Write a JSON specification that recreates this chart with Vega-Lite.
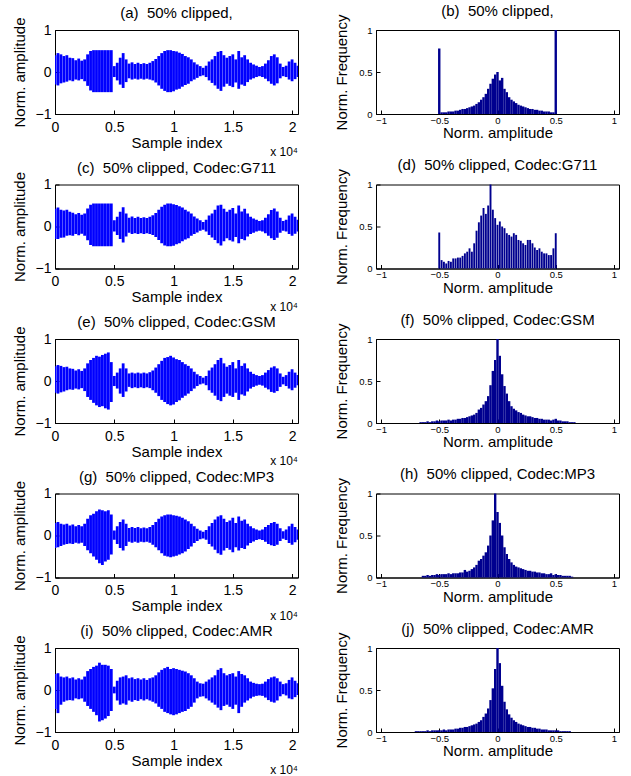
{
"$schema": "https://vega.github.io/schema/vega-lite/v6.json",
"background": "white",
"padding": {"left": 11, "top": 3, "right": 5, "bottom": 2},
"config": {
  "font": "Liberation Sans",
  "view": {"stroke": "black", "strokeWidth": 1},
  "title": {"fontSize": 15, "fontWeight": "normal", "font": "Liberation Sans", "color": "black", "offset": -4.5, "anchor": "middle", "frame": "group", "baseline": "alphabetic"},
  "axis": {"grid": false, "domainColor": "black", "tickColor": "black", "tickSize": -4, "labelColor": "black", "titleColor": "black", "titleFontWeight": "normal", "titleFontSize": 15, "labelFont": "Liberation Sans", "titleFont": "Liberation Sans", "labelFlush": false, "labelOverlap": false}
},
"datasets": {
"wave": [
{"p":"a","t":0,"hi":0.40,"lo":-0.30},{"p":"a","t":250,"hi":0.45,"lo":-0.32},{"p":"a","t":500,"hi":0.42,"lo":-0.27},{"p":"a","t":750,"hi":0.38,"lo":-0.25},{"p":"a","t":1000,"hi":0.40,"lo":-0.23},{"p":"a","t":1250,"hi":0.34,"lo":-0.20},{"p":"a","t":1500,"hi":0.33,"lo":-0.22},{"p":"a","t":1750,"hi":0.28,"lo":-0.18},{"p":"a","t":2000,"hi":0.32,"lo":-0.20},{"p":"a","t":2250,"hi":0.27,"lo":-0.17},{"p":"a","t":2500,"hi":0.30,"lo":-0.22},{"p":"a","t":2750,"hi":0.42,"lo":-0.33},{"p":"a","t":3000,"hi":0.50,"lo":-0.44},{"p":"a","t":3250,"hi":0.52,"lo":-0.48},{"p":"a","t":3500,"hi":0.52,"lo":-0.48},{"p":"a","t":3750,"hi":0.52,"lo":-0.48},{"p":"a","t":4000,"hi":0.52,"lo":-0.48},{"p":"a","t":4250,"hi":0.52,"lo":-0.48},{"p":"a","t":4500,"hi":0.52,"lo":-0.48},{"p":"a","t":4750,"hi":0.52,"lo":-0.48},{"p":"a","t":5000,"hi":0.14,"lo":-0.12},{"p":"a","t":5250,"hi":0.22,"lo":-0.20},{"p":"a","t":5500,"hi":0.34,"lo":-0.30},{"p":"a","t":5750,"hi":0.45,"lo":-0.38},{"p":"a","t":6000,"hi":0.30,"lo":-0.24},{"p":"a","t":6250,"hi":0.20,"lo":-0.15},{"p":"a","t":6500,"hi":0.23,"lo":-0.18},{"p":"a","t":6750,"hi":0.19,"lo":-0.16},{"p":"a","t":7000,"hi":0.22,"lo":-0.18},{"p":"a","t":7250,"hi":0.19,"lo":-0.16},{"p":"a","t":7500,"hi":0.21,"lo":-0.18},{"p":"a","t":7750,"hi":0.19,"lo":-0.16},{"p":"a","t":8000,"hi":0.22,"lo":-0.18},{"p":"a","t":8250,"hi":0.26,"lo":-0.20},{"p":"a","t":8500,"hi":0.31,"lo":-0.25},{"p":"a","t":8750,"hi":0.38,"lo":-0.32},{"p":"a","t":9000,"hi":0.45,"lo":-0.40},{"p":"a","t":9250,"hi":0.50,"lo":-0.45},{"p":"a","t":9500,"hi":0.52,"lo":-0.48},{"p":"a","t":9750,"hi":0.52,"lo":-0.48},{"p":"a","t":10000,"hi":0.50,"lo":-0.46},{"p":"a","t":10250,"hi":0.49,"lo":-0.42},{"p":"a","t":10500,"hi":0.46,"lo":-0.40},{"p":"a","t":10750,"hi":0.43,"lo":-0.35},{"p":"a","t":11000,"hi":0.38,"lo":-0.31},{"p":"a","t":11250,"hi":0.35,"lo":-0.28},{"p":"a","t":11500,"hi":0.30,"lo":-0.22},{"p":"a","t":11750,"hi":0.23,"lo":-0.18},{"p":"a","t":12000,"hi":0.18,"lo":-0.14},{"p":"a","t":12250,"hi":0.14,"lo":-0.10},{"p":"a","t":12500,"hi":0.10,"lo":-0.08},{"p":"a","t":12750,"hi":0.15,"lo":-0.12},{"p":"a","t":13000,"hi":0.25,"lo":-0.20},{"p":"a","t":13250,"hi":0.30,"lo":-0.26},{"p":"a","t":13500,"hi":0.38,"lo":-0.32},{"p":"a","t":13750,"hi":0.48,"lo":-0.40},{"p":"a","t":14000,"hi":0.50,"lo":-0.45},{"p":"a","t":14250,"hi":0.40,"lo":-0.35},{"p":"a","t":14500,"hi":0.34,"lo":-0.28},{"p":"a","t":14750,"hi":0.38,"lo":-0.33},{"p":"a","t":15000,"hi":0.42,"lo":-0.36},{"p":"a","t":15250,"hi":0.30,"lo":-0.25},{"p":"a","t":15500,"hi":0.50,"lo":-0.40},{"p":"a","t":15750,"hi":0.35,"lo":-0.30},{"p":"a","t":16000,"hi":0.40,"lo":-0.33},{"p":"a","t":16250,"hi":0.30,"lo":-0.24},{"p":"a","t":16500,"hi":0.22,"lo":-0.18},{"p":"a","t":16750,"hi":0.18,"lo":-0.15},{"p":"a","t":17000,"hi":0.15,"lo":-0.12},{"p":"a","t":17250,"hi":0.12,"lo":-0.10},{"p":"a","t":17500,"hi":0.14,"lo":-0.12},{"p":"a","t":17750,"hi":0.20,"lo":-0.16},{"p":"a","t":18000,"hi":0.28,"lo":-0.22},{"p":"a","t":18250,"hi":0.38,"lo":-0.28},{"p":"a","t":18500,"hi":0.42,"lo":-0.32},{"p":"a","t":18750,"hi":0.35,"lo":-0.27},{"p":"a","t":19000,"hi":0.20,"lo":-0.15},{"p":"a","t":19250,"hi":0.12,"lo":-0.10},{"p":"a","t":19500,"hi":0.15,"lo":-0.12},{"p":"a","t":19750,"hi":0.25,"lo":-0.18},{"p":"a","t":20000,"hi":0.30,"lo":-0.22},{"p":"a","t":20250,"hi":0.22,"lo":-0.17},{"p":"a","t":20500,"hi":0.15,"lo":-0.12},
{"p":"c","t":0,"hi":0.42,"lo":-0.30},{"p":"c","t":250,"hi":0.45,"lo":-0.30},{"p":"c","t":500,"hi":0.40,"lo":-0.27},{"p":"c","t":750,"hi":0.38,"lo":-0.26},{"p":"c","t":1000,"hi":0.40,"lo":-0.22},{"p":"c","t":1250,"hi":0.35,"lo":-0.21},{"p":"c","t":1500,"hi":0.33,"lo":-0.22},{"p":"c","t":1750,"hi":0.29,"lo":-0.18},{"p":"c","t":2000,"hi":0.32,"lo":-0.21},{"p":"c","t":2250,"hi":0.28,"lo":-0.17},{"p":"c","t":2500,"hi":0.31,"lo":-0.22},{"p":"c","t":2750,"hi":0.43,"lo":-0.33},{"p":"c","t":3000,"hi":0.52,"lo":-0.44},{"p":"c","t":3250,"hi":0.55,"lo":-0.47},{"p":"c","t":3500,"hi":0.55,"lo":-0.47},{"p":"c","t":3750,"hi":0.55,"lo":-0.47},{"p":"c","t":4000,"hi":0.55,"lo":-0.47},{"p":"c","t":4250,"hi":0.55,"lo":-0.47},{"p":"c","t":4500,"hi":0.55,"lo":-0.47},{"p":"c","t":4750,"hi":0.55,"lo":-0.47},{"p":"c","t":5000,"hi":0.15,"lo":-0.12},{"p":"c","t":5250,"hi":0.23,"lo":-0.20},{"p":"c","t":5500,"hi":0.35,"lo":-0.30},{"p":"c","t":5750,"hi":0.46,"lo":-0.38},{"p":"c","t":6000,"hi":0.31,"lo":-0.24},{"p":"c","t":6250,"hi":0.21,"lo":-0.15},{"p":"c","t":6500,"hi":0.24,"lo":-0.18},{"p":"c","t":6750,"hi":0.20,"lo":-0.16},{"p":"c","t":7000,"hi":0.23,"lo":-0.18},{"p":"c","t":7250,"hi":0.20,"lo":-0.16},{"p":"c","t":7500,"hi":0.22,"lo":-0.18},{"p":"c","t":7750,"hi":0.20,"lo":-0.16},{"p":"c","t":8000,"hi":0.23,"lo":-0.18},{"p":"c","t":8250,"hi":0.27,"lo":-0.20},{"p":"c","t":8500,"hi":0.32,"lo":-0.25},{"p":"c","t":8750,"hi":0.40,"lo":-0.32},{"p":"c","t":9000,"hi":0.47,"lo":-0.40},{"p":"c","t":9250,"hi":0.52,"lo":-0.45},{"p":"c","t":9500,"hi":0.55,"lo":-0.47},{"p":"c","t":9750,"hi":0.55,"lo":-0.47},{"p":"c","t":10000,"hi":0.53,"lo":-0.46},{"p":"c","t":10250,"hi":0.51,"lo":-0.42},{"p":"c","t":10500,"hi":0.48,"lo":-0.40},{"p":"c","t":10750,"hi":0.45,"lo":-0.35},{"p":"c","t":11000,"hi":0.40,"lo":-0.31},{"p":"c","t":11250,"hi":0.36,"lo":-0.28},{"p":"c","t":11500,"hi":0.31,"lo":-0.22},{"p":"c","t":11750,"hi":0.24,"lo":-0.18},{"p":"c","t":12000,"hi":0.19,"lo":-0.14},{"p":"c","t":12250,"hi":0.15,"lo":-0.10},{"p":"c","t":12500,"hi":0.11,"lo":-0.08},{"p":"c","t":12750,"hi":0.16,"lo":-0.12},{"p":"c","t":13000,"hi":0.26,"lo":-0.20},{"p":"c","t":13250,"hi":0.31,"lo":-0.26},{"p":"c","t":13500,"hi":0.40,"lo":-0.32},{"p":"c","t":13750,"hi":0.50,"lo":-0.40},{"p":"c","t":14000,"hi":0.52,"lo":-0.45},{"p":"c","t":14250,"hi":0.42,"lo":-0.35},{"p":"c","t":14500,"hi":0.35,"lo":-0.28},{"p":"c","t":14750,"hi":0.40,"lo":-0.33},{"p":"c","t":15000,"hi":0.44,"lo":-0.36},{"p":"c","t":15250,"hi":0.31,"lo":-0.25},{"p":"c","t":15500,"hi":0.50,"lo":-0.40},{"p":"c","t":15750,"hi":0.36,"lo":-0.30},{"p":"c","t":16000,"hi":0.42,"lo":-0.33},{"p":"c","t":16250,"hi":0.31,"lo":-0.24},{"p":"c","t":16500,"hi":0.23,"lo":-0.18},{"p":"c","t":16750,"hi":0.19,"lo":-0.15},{"p":"c","t":17000,"hi":0.16,"lo":-0.12},{"p":"c","t":17250,"hi":0.13,"lo":-0.10},{"p":"c","t":17500,"hi":0.15,"lo":-0.12},{"p":"c","t":17750,"hi":0.21,"lo":-0.16},{"p":"c","t":18000,"hi":0.29,"lo":-0.22},{"p":"c","t":18250,"hi":0.39,"lo":-0.28},{"p":"c","t":18500,"hi":0.43,"lo":-0.32},{"p":"c","t":18750,"hi":0.36,"lo":-0.27},{"p":"c","t":19000,"hi":0.21,"lo":-0.15},{"p":"c","t":19250,"hi":0.13,"lo":-0.10},{"p":"c","t":19500,"hi":0.16,"lo":-0.12},{"p":"c","t":19750,"hi":0.26,"lo":-0.18},{"p":"c","t":20000,"hi":0.31,"lo":-0.22},{"p":"c","t":20250,"hi":0.23,"lo":-0.17},{"p":"c","t":20500,"hi":0.16,"lo":-0.12},
{"p":"e","t":0,"hi":0.35,"lo":-0.28},{"p":"e","t":250,"hi":0.38,"lo":-0.30},{"p":"e","t":500,"hi":0.36,"lo":-0.27},{"p":"e","t":750,"hi":0.33,"lo":-0.25},{"p":"e","t":1000,"hi":0.34,"lo":-0.22},{"p":"e","t":1250,"hi":0.30,"lo":-0.20},{"p":"e","t":1500,"hi":0.29,"lo":-0.21},{"p":"e","t":1750,"hi":0.25,"lo":-0.18},{"p":"e","t":2000,"hi":0.28,"lo":-0.20},{"p":"e","t":2250,"hi":0.24,"lo":-0.17},{"p":"e","t":2500,"hi":0.30,"lo":-0.24},{"p":"e","t":2750,"hi":0.42,"lo":-0.38},{"p":"e","t":3000,"hi":0.50,"lo":-0.45},{"p":"e","t":3250,"hi":0.55,"lo":-0.52},{"p":"e","t":3500,"hi":0.60,"lo":-0.58},{"p":"e","t":3750,"hi":0.58,"lo":-0.62},{"p":"e","t":4000,"hi":0.62,"lo":-0.60},{"p":"e","t":4250,"hi":0.65,"lo":-0.65},{"p":"e","t":4500,"hi":0.68,"lo":-0.68},{"p":"e","t":4750,"hi":0.45,"lo":-0.50},{"p":"e","t":5000,"hi":0.12,"lo":-0.12},{"p":"e","t":5250,"hi":0.20,"lo":-0.18},{"p":"e","t":5500,"hi":0.30,"lo":-0.30},{"p":"e","t":5750,"hi":0.42,"lo":-0.38},{"p":"e","t":6000,"hi":0.30,"lo":-0.25},{"p":"e","t":6250,"hi":0.18,"lo":-0.14},{"p":"e","t":6500,"hi":0.20,"lo":-0.17},{"p":"e","t":6750,"hi":0.18,"lo":-0.15},{"p":"e","t":7000,"hi":0.20,"lo":-0.17},{"p":"e","t":7250,"hi":0.18,"lo":-0.15},{"p":"e","t":7500,"hi":0.20,"lo":-0.17},{"p":"e","t":7750,"hi":0.18,"lo":-0.15},{"p":"e","t":8000,"hi":0.21,"lo":-0.17},{"p":"e","t":8250,"hi":0.25,"lo":-0.22},{"p":"e","t":8500,"hi":0.32,"lo":-0.28},{"p":"e","t":8750,"hi":0.40,"lo":-0.36},{"p":"e","t":9000,"hi":0.48,"lo":-0.45},{"p":"e","t":9250,"hi":0.55,"lo":-0.50},{"p":"e","t":9500,"hi":0.57,"lo":-0.55},{"p":"e","t":9750,"hi":0.60,"lo":-0.58},{"p":"e","t":10000,"hi":0.56,"lo":-0.56},{"p":"e","t":10250,"hi":0.52,"lo":-0.50},{"p":"e","t":10500,"hi":0.50,"lo":-0.46},{"p":"e","t":10750,"hi":0.45,"lo":-0.40},{"p":"e","t":11000,"hi":0.40,"lo":-0.35},{"p":"e","t":11250,"hi":0.36,"lo":-0.30},{"p":"e","t":11500,"hi":0.30,"lo":-0.24},{"p":"e","t":11750,"hi":0.22,"lo":-0.18},{"p":"e","t":12000,"hi":0.16,"lo":-0.12},{"p":"e","t":12250,"hi":0.12,"lo":-0.08},{"p":"e","t":12500,"hi":0.08,"lo":-0.06},{"p":"e","t":12750,"hi":0.12,"lo":-0.10},{"p":"e","t":13000,"hi":0.25,"lo":-0.22},{"p":"e","t":13250,"hi":0.32,"lo":-0.28},{"p":"e","t":13500,"hi":0.40,"lo":-0.35},{"p":"e","t":13750,"hi":0.50,"lo":-0.45},{"p":"e","t":14000,"hi":0.55,"lo":-0.48},{"p":"e","t":14250,"hi":0.42,"lo":-0.38},{"p":"e","t":14500,"hi":0.34,"lo":-0.30},{"p":"e","t":14750,"hi":0.38,"lo":-0.35},{"p":"e","t":15000,"hi":0.45,"lo":-0.38},{"p":"e","t":15250,"hi":0.30,"lo":-0.28},{"p":"e","t":15500,"hi":0.50,"lo":-0.45},{"p":"e","t":15750,"hi":0.36,"lo":-0.32},{"p":"e","t":16000,"hi":0.42,"lo":-0.35},{"p":"e","t":16250,"hi":0.30,"lo":-0.25},{"p":"e","t":16500,"hi":0.22,"lo":-0.18},{"p":"e","t":16750,"hi":0.17,"lo":-0.14},{"p":"e","t":17000,"hi":0.14,"lo":-0.11},{"p":"e","t":17250,"hi":0.12,"lo":-0.09},{"p":"e","t":17500,"hi":0.14,"lo":-0.11},{"p":"e","t":17750,"hi":0.20,"lo":-0.16},{"p":"e","t":18000,"hi":0.26,"lo":-0.20},{"p":"e","t":18250,"hi":0.32,"lo":-0.26},{"p":"e","t":18500,"hi":0.35,"lo":-0.28},{"p":"e","t":18750,"hi":0.30,"lo":-0.24},{"p":"e","t":19000,"hi":0.18,"lo":-0.14},{"p":"e","t":19250,"hi":0.10,"lo":-0.08},{"p":"e","t":19500,"hi":0.14,"lo":-0.12},{"p":"e","t":19750,"hi":0.22,"lo":-0.18},{"p":"e","t":20000,"hi":0.28,"lo":-0.22},{"p":"e","t":20250,"hi":0.20,"lo":-0.16},{"p":"e","t":20500,"hi":0.14,"lo":-0.10},
{"p":"g","t":0,"hi":0.30,"lo":-0.30},{"p":"g","t":250,"hi":0.32,"lo":-0.28},{"p":"g","t":500,"hi":0.28,"lo":-0.25},{"p":"g","t":750,"hi":0.26,"lo":-0.22},{"p":"g","t":1000,"hi":0.28,"lo":-0.20},{"p":"g","t":1250,"hi":0.24,"lo":-0.19},{"p":"g","t":1500,"hi":0.26,"lo":-0.20},{"p":"g","t":1750,"hi":0.22,"lo":-0.17},{"p":"g","t":2000,"hi":0.25,"lo":-0.19},{"p":"g","t":2250,"hi":0.22,"lo":-0.17},{"p":"g","t":2500,"hi":0.28,"lo":-0.25},{"p":"g","t":2750,"hi":0.40,"lo":-0.35},{"p":"g","t":3000,"hi":0.48,"lo":-0.42},{"p":"g","t":3250,"hi":0.52,"lo":-0.50},{"p":"g","t":3500,"hi":0.58,"lo":-0.58},{"p":"g","t":3750,"hi":0.62,"lo":-0.66},{"p":"g","t":4000,"hi":0.60,"lo":-0.70},{"p":"g","t":4250,"hi":0.58,"lo":-0.62},{"p":"g","t":4500,"hi":0.60,"lo":-0.58},{"p":"g","t":4750,"hi":0.50,"lo":-0.45},{"p":"g","t":5000,"hi":0.12,"lo":-0.10},{"p":"g","t":5250,"hi":0.22,"lo":-0.20},{"p":"g","t":5500,"hi":0.32,"lo":-0.30},{"p":"g","t":5750,"hi":0.38,"lo":-0.36},{"p":"g","t":6000,"hi":0.28,"lo":-0.25},{"p":"g","t":6250,"hi":0.18,"lo":-0.15},{"p":"g","t":6500,"hi":0.20,"lo":-0.17},{"p":"g","t":6750,"hi":0.18,"lo":-0.15},{"p":"g","t":7000,"hi":0.20,"lo":-0.17},{"p":"g","t":7250,"hi":0.17,"lo":-0.15},{"p":"g","t":7500,"hi":0.19,"lo":-0.16},{"p":"g","t":7750,"hi":0.17,"lo":-0.15},{"p":"g","t":8000,"hi":0.20,"lo":-0.17},{"p":"g","t":8250,"hi":0.25,"lo":-0.22},{"p":"g","t":8500,"hi":0.32,"lo":-0.28},{"p":"g","t":8750,"hi":0.40,"lo":-0.35},{"p":"g","t":9000,"hi":0.45,"lo":-0.42},{"p":"g","t":9250,"hi":0.48,"lo":-0.48},{"p":"g","t":9500,"hi":0.50,"lo":-0.50},{"p":"g","t":9750,"hi":0.50,"lo":-0.52},{"p":"g","t":10000,"hi":0.48,"lo":-0.50},{"p":"g","t":10250,"hi":0.47,"lo":-0.48},{"p":"g","t":10500,"hi":0.45,"lo":-0.45},{"p":"g","t":10750,"hi":0.42,"lo":-0.42},{"p":"g","t":11000,"hi":0.38,"lo":-0.38},{"p":"g","t":11250,"hi":0.34,"lo":-0.32},{"p":"g","t":11500,"hi":0.28,"lo":-0.26},{"p":"g","t":11750,"hi":0.22,"lo":-0.18},{"p":"g","t":12000,"hi":0.16,"lo":-0.13},{"p":"g","t":12250,"hi":0.12,"lo":-0.09},{"p":"g","t":12500,"hi":0.09,"lo":-0.07},{"p":"g","t":12750,"hi":0.13,"lo":-0.10},{"p":"g","t":13000,"hi":0.22,"lo":-0.20},{"p":"g","t":13250,"hi":0.30,"lo":-0.26},{"p":"g","t":13500,"hi":0.38,"lo":-0.34},{"p":"g","t":13750,"hi":0.45,"lo":-0.42},{"p":"g","t":14000,"hi":0.48,"lo":-0.46},{"p":"g","t":14250,"hi":0.40,"lo":-0.36},{"p":"g","t":14500,"hi":0.32,"lo":-0.30},{"p":"g","t":14750,"hi":0.36,"lo":-0.34},{"p":"g","t":15000,"hi":0.42,"lo":-0.40},{"p":"g","t":15250,"hi":0.30,"lo":-0.28},{"p":"g","t":15500,"hi":0.45,"lo":-0.36},{"p":"g","t":15750,"hi":0.35,"lo":-0.30},{"p":"g","t":16000,"hi":0.38,"lo":-0.32},{"p":"g","t":16250,"hi":0.28,"lo":-0.24},{"p":"g","t":16500,"hi":0.22,"lo":-0.18},{"p":"g","t":16750,"hi":0.17,"lo":-0.14},{"p":"g","t":17000,"hi":0.14,"lo":-0.11},{"p":"g","t":17250,"hi":0.12,"lo":-0.09},{"p":"g","t":17500,"hi":0.14,"lo":-0.11},{"p":"g","t":17750,"hi":0.20,"lo":-0.15},{"p":"g","t":18000,"hi":0.25,"lo":-0.20},{"p":"g","t":18250,"hi":0.30,"lo":-0.23},{"p":"g","t":18500,"hi":0.32,"lo":-0.25},{"p":"g","t":18750,"hi":0.28,"lo":-0.22},{"p":"g","t":19000,"hi":0.17,"lo":-0.13},{"p":"g","t":19250,"hi":0.10,"lo":-0.08},{"p":"g","t":19500,"hi":0.14,"lo":-0.11},{"p":"g","t":19750,"hi":0.22,"lo":-0.18},{"p":"g","t":20000,"hi":0.28,"lo":-0.22},{"p":"g","t":20250,"hi":0.20,"lo":-0.16},{"p":"g","t":20500,"hi":0.14,"lo":-0.10},
{"p":"i","t":0,"hi":0.38,"lo":-0.45},{"p":"i","t":250,"hi":0.40,"lo":-0.55},{"p":"i","t":500,"hi":0.32,"lo":-0.35},{"p":"i","t":750,"hi":0.30,"lo":-0.28},{"p":"i","t":1000,"hi":0.32,"lo":-0.25},{"p":"i","t":1250,"hi":0.28,"lo":-0.24},{"p":"i","t":1500,"hi":0.30,"lo":-0.25},{"p":"i","t":1750,"hi":0.25,"lo":-0.20},{"p":"i","t":2000,"hi":0.28,"lo":-0.22},{"p":"i","t":2250,"hi":0.25,"lo":-0.20},{"p":"i","t":2500,"hi":0.32,"lo":-0.28},{"p":"i","t":2750,"hi":0.45,"lo":-0.38},{"p":"i","t":3000,"hi":0.50,"lo":-0.45},{"p":"i","t":3250,"hi":0.55,"lo":-0.52},{"p":"i","t":3500,"hi":0.58,"lo":-0.60},{"p":"i","t":3750,"hi":0.65,"lo":-0.75},{"p":"i","t":4000,"hi":0.60,"lo":-0.72},{"p":"i","t":4250,"hi":0.60,"lo":-0.68},{"p":"i","t":4500,"hi":0.58,"lo":-0.62},{"p":"i","t":4750,"hi":0.50,"lo":-0.50},{"p":"i","t":5000,"hi":0.08,"lo":-0.08},{"p":"i","t":5250,"hi":0.22,"lo":-0.25},{"p":"i","t":5500,"hi":0.30,"lo":-0.35},{"p":"i","t":5750,"hi":0.32,"lo":-0.32},{"p":"i","t":6000,"hi":0.35,"lo":-0.35},{"p":"i","t":6250,"hi":0.28,"lo":-0.25},{"p":"i","t":6500,"hi":0.30,"lo":-0.28},{"p":"i","t":6750,"hi":0.26,"lo":-0.24},{"p":"i","t":7000,"hi":0.28,"lo":-0.26},{"p":"i","t":7250,"hi":0.25,"lo":-0.22},{"p":"i","t":7500,"hi":0.28,"lo":-0.25},{"p":"i","t":7750,"hi":0.24,"lo":-0.22},{"p":"i","t":8000,"hi":0.28,"lo":-0.25},{"p":"i","t":8250,"hi":0.30,"lo":-0.28},{"p":"i","t":8500,"hi":0.35,"lo":-0.32},{"p":"i","t":8750,"hi":0.42,"lo":-0.40},{"p":"i","t":9000,"hi":0.48,"lo":-0.45},{"p":"i","t":9250,"hi":0.52,"lo":-0.52},{"p":"i","t":9500,"hi":0.55,"lo":-0.55},{"p":"i","t":9750,"hi":0.50,"lo":-0.58},{"p":"i","t":10000,"hi":0.52,"lo":-0.60},{"p":"i","t":10250,"hi":0.50,"lo":-0.58},{"p":"i","t":10500,"hi":0.48,"lo":-0.55},{"p":"i","t":10750,"hi":0.46,"lo":-0.52},{"p":"i","t":11000,"hi":0.44,"lo":-0.50},{"p":"i","t":11250,"hi":0.40,"lo":-0.45},{"p":"i","t":11500,"hi":0.35,"lo":-0.40},{"p":"i","t":11750,"hi":0.28,"lo":-0.30},{"p":"i","t":12000,"hi":0.20,"lo":-0.20},{"p":"i","t":12250,"hi":0.16,"lo":-0.16},{"p":"i","t":12500,"hi":0.15,"lo":-0.15},{"p":"i","t":12750,"hi":0.20,"lo":-0.20},{"p":"i","t":13000,"hi":0.25,"lo":-0.25},{"p":"i","t":13250,"hi":0.30,"lo":-0.30},{"p":"i","t":13500,"hi":0.35,"lo":-0.35},{"p":"i","t":13750,"hi":0.48,"lo":-0.42},{"p":"i","t":14000,"hi":0.52,"lo":-0.48},{"p":"i","t":14250,"hi":0.40,"lo":-0.38},{"p":"i","t":14500,"hi":0.35,"lo":-0.35},{"p":"i","t":14750,"hi":0.38,"lo":-0.40},{"p":"i","t":15000,"hi":0.40,"lo":-0.45},{"p":"i","t":15250,"hi":0.32,"lo":-0.35},{"p":"i","t":15500,"hi":0.45,"lo":-0.55},{"p":"i","t":15750,"hi":0.38,"lo":-0.40},{"p":"i","t":16000,"hi":0.35,"lo":-0.30},{"p":"i","t":16250,"hi":0.28,"lo":-0.25},{"p":"i","t":16500,"hi":0.20,"lo":-0.20},{"p":"i","t":16750,"hi":0.17,"lo":-0.16},{"p":"i","t":17000,"hi":0.15,"lo":-0.14},{"p":"i","t":17250,"hi":0.14,"lo":-0.13},{"p":"i","t":17500,"hi":0.15,"lo":-0.14},{"p":"i","t":17750,"hi":0.20,"lo":-0.18},{"p":"i","t":18000,"hi":0.26,"lo":-0.24},{"p":"i","t":18250,"hi":0.30,"lo":-0.28},{"p":"i","t":18500,"hi":0.32,"lo":-0.30},{"p":"i","t":18750,"hi":0.28,"lo":-0.25},{"p":"i","t":19000,"hi":0.20,"lo":-0.15},{"p":"i","t":19250,"hi":0.14,"lo":-0.10},{"p":"i","t":19500,"hi":0.16,"lo":-0.13},{"p":"i","t":19750,"hi":0.24,"lo":-0.20},{"p":"i","t":20000,"hi":0.30,"lo":-0.22},{"p":"i","t":20250,"hi":0.22,"lo":-0.17},{"p":"i","t":20500,"hi":0.16,"lo":-0.12}
],
"hist": [
{"p":"b","v":-0.50,"f":0.78},{"p":"b","v":-0.48,"f":0.02},{"p":"b","v":-0.46,"f":0.02},{"p":"b","v":-0.44,"f":0.02},{"p":"b","v":-0.42,"f":0.03},{"p":"b","v":-0.40,"f":0.03},{"p":"b","v":-0.38,"f":0.03},{"p":"b","v":-0.36,"f":0.04},{"p":"b","v":-0.34,"f":0.04},{"p":"b","v":-0.32,"f":0.05},{"p":"b","v":-0.30,"f":0.06},{"p":"b","v":-0.28,"f":0.06},{"p":"b","v":-0.26,"f":0.07},{"p":"b","v":-0.24,"f":0.08},{"p":"b","v":-0.22,"f":0.09},{"p":"b","v":-0.20,"f":0.10},{"p":"b","v":-0.18,"f":0.12},{"p":"b","v":-0.16,"f":0.14},{"p":"b","v":-0.14,"f":0.17},{"p":"b","v":-0.12,"f":0.20},{"p":"b","v":-0.10,"f":0.24},{"p":"b","v":-0.08,"f":0.30},{"p":"b","v":-0.06,"f":0.36},{"p":"b","v":-0.04,"f":0.42},{"p":"b","v":-0.02,"f":0.47},{"p":"b","v":0.00,"f":0.50},{"p":"b","v":0.02,"f":0.40},{"p":"b","v":0.04,"f":0.43},{"p":"b","v":0.06,"f":0.30},{"p":"b","v":0.08,"f":0.26},{"p":"b","v":0.10,"f":0.20},{"p":"b","v":0.12,"f":0.17},{"p":"b","v":0.14,"f":0.15},{"p":"b","v":0.16,"f":0.13},{"p":"b","v":0.18,"f":0.11},{"p":"b","v":0.20,"f":0.10},{"p":"b","v":0.22,"f":0.09},{"p":"b","v":0.24,"f":0.08},{"p":"b","v":0.26,"f":0.07},{"p":"b","v":0.28,"f":0.06},{"p":"b","v":0.30,"f":0.06},{"p":"b","v":0.32,"f":0.05},{"p":"b","v":0.34,"f":0.05},{"p":"b","v":0.36,"f":0.04},{"p":"b","v":0.38,"f":0.04},{"p":"b","v":0.40,"f":0.03},{"p":"b","v":0.42,"f":0.03},{"p":"b","v":0.44,"f":0.03},{"p":"b","v":0.46,"f":0.02},{"p":"b","v":0.48,"f":0.02},{"p":"b","v":0.50,"f":1.00},
{"p":"d","v":-0.50,"f":0.43},{"p":"d","v":-0.48,"f":0.10},{"p":"d","v":-0.46,"f":0.08},{"p":"d","v":-0.44,"f":0.06},{"p":"d","v":-0.42,"f":0.09},{"p":"d","v":-0.40,"f":0.08},{"p":"d","v":-0.38,"f":0.12},{"p":"d","v":-0.36,"f":0.12},{"p":"d","v":-0.34,"f":0.13},{"p":"d","v":-0.32,"f":0.13},{"p":"d","v":-0.30,"f":0.15},{"p":"d","v":-0.28,"f":0.18},{"p":"d","v":-0.26,"f":0.20},{"p":"d","v":-0.24,"f":0.24},{"p":"d","v":-0.22,"f":0.20},{"p":"d","v":-0.20,"f":0.30},{"p":"d","v":-0.18,"f":0.45},{"p":"d","v":-0.16,"f":0.55},{"p":"d","v":-0.14,"f":0.63},{"p":"d","v":-0.12,"f":0.72},{"p":"d","v":-0.10,"f":0.65},{"p":"d","v":-0.08,"f":0.75},{"p":"d","v":-0.06,"f":1.00},{"p":"d","v":-0.04,"f":0.70},{"p":"d","v":-0.02,"f":0.60},{"p":"d","v":0.00,"f":0.52},{"p":"d","v":0.02,"f":0.56},{"p":"d","v":0.04,"f":0.50},{"p":"d","v":0.06,"f":0.48},{"p":"d","v":0.08,"f":0.42},{"p":"d","v":0.10,"f":0.40},{"p":"d","v":0.12,"f":0.38},{"p":"d","v":0.14,"f":0.42},{"p":"d","v":0.16,"f":0.40},{"p":"d","v":0.18,"f":0.34},{"p":"d","v":0.20,"f":0.33},{"p":"d","v":0.22,"f":0.30},{"p":"d","v":0.24,"f":0.28},{"p":"d","v":0.26,"f":0.34},{"p":"d","v":0.28,"f":0.34},{"p":"d","v":0.30,"f":0.30},{"p":"d","v":0.32,"f":0.25},{"p":"d","v":0.34,"f":0.22},{"p":"d","v":0.36,"f":0.24},{"p":"d","v":0.38,"f":0.20},{"p":"d","v":0.40,"f":0.18},{"p":"d","v":0.42,"f":0.18},{"p":"d","v":0.44,"f":0.16},{"p":"d","v":0.46,"f":0.16},{"p":"d","v":0.48,"f":0.24},{"p":"d","v":0.50,"f":0.42},
{"p":"f","v":-0.66,"f":0.01},{"p":"f","v":-0.64,"f":0.01},{"p":"f","v":-0.62,"f":0.01},{"p":"f","v":-0.60,"f":0.02},{"p":"f","v":-0.58,"f":0.01},{"p":"f","v":-0.56,"f":0.02},{"p":"f","v":-0.54,"f":0.02},{"p":"f","v":-0.52,"f":0.03},{"p":"f","v":-0.50,"f":0.02},{"p":"f","v":-0.48,"f":0.03},{"p":"f","v":-0.46,"f":0.03},{"p":"f","v":-0.44,"f":0.03},{"p":"f","v":-0.42,"f":0.04},{"p":"f","v":-0.40,"f":0.03},{"p":"f","v":-0.38,"f":0.04},{"p":"f","v":-0.36,"f":0.04},{"p":"f","v":-0.34,"f":0.05},{"p":"f","v":-0.32,"f":0.05},{"p":"f","v":-0.30,"f":0.06},{"p":"f","v":-0.28,"f":0.06},{"p":"f","v":-0.26,"f":0.07},{"p":"f","v":-0.24,"f":0.08},{"p":"f","v":-0.22,"f":0.09},{"p":"f","v":-0.20,"f":0.10},{"p":"f","v":-0.18,"f":0.12},{"p":"f","v":-0.16,"f":0.16},{"p":"f","v":-0.14,"f":0.18},{"p":"f","v":-0.12,"f":0.22},{"p":"f","v":-0.10,"f":0.26},{"p":"f","v":-0.08,"f":0.32},{"p":"f","v":-0.06,"f":0.45},{"p":"f","v":-0.04,"f":0.62},{"p":"f","v":-0.02,"f":0.75},{"p":"f","v":0.00,"f":1.00},{"p":"f","v":0.02,"f":0.80},{"p":"f","v":0.04,"f":0.58},{"p":"f","v":0.06,"f":0.44},{"p":"f","v":0.08,"f":0.35},{"p":"f","v":0.10,"f":0.26},{"p":"f","v":0.12,"f":0.20},{"p":"f","v":0.14,"f":0.17},{"p":"f","v":0.16,"f":0.15},{"p":"f","v":0.18,"f":0.13},{"p":"f","v":0.20,"f":0.12},{"p":"f","v":0.22,"f":0.10},{"p":"f","v":0.24,"f":0.09},{"p":"f","v":0.26,"f":0.08},{"p":"f","v":0.28,"f":0.08},{"p":"f","v":0.30,"f":0.07},{"p":"f","v":0.32,"f":0.06},{"p":"f","v":0.34,"f":0.06},{"p":"f","v":0.36,"f":0.05},{"p":"f","v":0.38,"f":0.05},{"p":"f","v":0.40,"f":0.04},{"p":"f","v":0.42,"f":0.04},{"p":"f","v":0.44,"f":0.04},{"p":"f","v":0.46,"f":0.03},{"p":"f","v":0.48,"f":0.04},{"p":"f","v":0.50,"f":0.05},{"p":"f","v":0.52,"f":0.03},{"p":"f","v":0.54,"f":0.03},{"p":"f","v":0.56,"f":0.02},{"p":"f","v":0.58,"f":0.02},{"p":"f","v":0.60,"f":0.02},{"p":"f","v":0.62,"f":0.01},{"p":"f","v":0.64,"f":0.01},{"p":"f","v":0.66,"f":0.01},
{"p":"h","v":-0.64,"f":0.02},{"p":"h","v":-0.62,"f":0.02},{"p":"h","v":-0.60,"f":0.03},{"p":"h","v":-0.58,"f":0.02},{"p":"h","v":-0.56,"f":0.03},{"p":"h","v":-0.54,"f":0.03},{"p":"h","v":-0.52,"f":0.04},{"p":"h","v":-0.50,"f":0.03},{"p":"h","v":-0.48,"f":0.04},{"p":"h","v":-0.46,"f":0.04},{"p":"h","v":-0.44,"f":0.04},{"p":"h","v":-0.42,"f":0.05},{"p":"h","v":-0.40,"f":0.04},{"p":"h","v":-0.38,"f":0.05},{"p":"h","v":-0.36,"f":0.05},{"p":"h","v":-0.34,"f":0.05},{"p":"h","v":-0.32,"f":0.06},{"p":"h","v":-0.30,"f":0.06},{"p":"h","v":-0.28,"f":0.09},{"p":"h","v":-0.26,"f":0.07},{"p":"h","v":-0.24,"f":0.08},{"p":"h","v":-0.22,"f":0.10},{"p":"h","v":-0.20,"f":0.12},{"p":"h","v":-0.18,"f":0.15},{"p":"h","v":-0.16,"f":0.20},{"p":"h","v":-0.14,"f":0.22},{"p":"h","v":-0.12,"f":0.26},{"p":"h","v":-0.10,"f":0.30},{"p":"h","v":-0.08,"f":0.38},{"p":"h","v":-0.06,"f":0.50},{"p":"h","v":-0.04,"f":0.68},{"p":"h","v":-0.02,"f":1.00},{"p":"h","v":0.00,"f":0.78},{"p":"h","v":0.02,"f":0.65},{"p":"h","v":0.04,"f":0.50},{"p":"h","v":0.06,"f":0.36},{"p":"h","v":0.08,"f":0.28},{"p":"h","v":0.10,"f":0.22},{"p":"h","v":0.12,"f":0.18},{"p":"h","v":0.14,"f":0.15},{"p":"h","v":0.16,"f":0.13},{"p":"h","v":0.18,"f":0.12},{"p":"h","v":0.20,"f":0.11},{"p":"h","v":0.22,"f":0.10},{"p":"h","v":0.24,"f":0.09},{"p":"h","v":0.26,"f":0.08},{"p":"h","v":0.28,"f":0.08},{"p":"h","v":0.30,"f":0.07},{"p":"h","v":0.32,"f":0.07},{"p":"h","v":0.34,"f":0.06},{"p":"h","v":0.36,"f":0.06},{"p":"h","v":0.38,"f":0.05},{"p":"h","v":0.40,"f":0.05},{"p":"h","v":0.42,"f":0.04},{"p":"h","v":0.44,"f":0.04},{"p":"h","v":0.46,"f":0.05},{"p":"h","v":0.48,"f":0.03},{"p":"h","v":0.50,"f":0.04},{"p":"h","v":0.52,"f":0.03},{"p":"h","v":0.54,"f":0.03},{"p":"h","v":0.56,"f":0.02},{"p":"h","v":0.58,"f":0.02},{"p":"h","v":0.60,"f":0.02},{"p":"h","v":0.62,"f":0.02},{"p":"h","v":0.64,"f":0.01},
{"p":"j","v":-0.70,"f":0.01},{"p":"j","v":-0.68,"f":0.01},{"p":"j","v":-0.66,"f":0.01},{"p":"j","v":-0.64,"f":0.01},{"p":"j","v":-0.62,"f":0.01},{"p":"j","v":-0.60,"f":0.02},{"p":"j","v":-0.58,"f":0.01},{"p":"j","v":-0.56,"f":0.02},{"p":"j","v":-0.54,"f":0.02},{"p":"j","v":-0.52,"f":0.02},{"p":"j","v":-0.50,"f":0.02},{"p":"j","v":-0.48,"f":0.02},{"p":"j","v":-0.46,"f":0.03},{"p":"j","v":-0.44,"f":0.02},{"p":"j","v":-0.42,"f":0.03},{"p":"j","v":-0.40,"f":0.03},{"p":"j","v":-0.38,"f":0.03},{"p":"j","v":-0.36,"f":0.04},{"p":"j","v":-0.34,"f":0.04},{"p":"j","v":-0.32,"f":0.05},{"p":"j","v":-0.30,"f":0.05},{"p":"j","v":-0.28,"f":0.06},{"p":"j","v":-0.26,"f":0.06},{"p":"j","v":-0.24,"f":0.07},{"p":"j","v":-0.22,"f":0.08},{"p":"j","v":-0.20,"f":0.09},{"p":"j","v":-0.18,"f":0.10},{"p":"j","v":-0.16,"f":0.12},{"p":"j","v":-0.14,"f":0.14},{"p":"j","v":-0.12,"f":0.18},{"p":"j","v":-0.10,"f":0.22},{"p":"j","v":-0.08,"f":0.28},{"p":"j","v":-0.06,"f":0.38},{"p":"j","v":-0.04,"f":0.52},{"p":"j","v":-0.02,"f":0.75},{"p":"j","v":0.00,"f":1.00},{"p":"j","v":0.02,"f":0.82},{"p":"j","v":0.04,"f":0.55},{"p":"j","v":0.06,"f":0.36},{"p":"j","v":0.08,"f":0.27},{"p":"j","v":0.10,"f":0.21},{"p":"j","v":0.12,"f":0.17},{"p":"j","v":0.14,"f":0.14},{"p":"j","v":0.16,"f":0.12},{"p":"j","v":0.18,"f":0.10},{"p":"j","v":0.20,"f":0.09},{"p":"j","v":0.22,"f":0.08},{"p":"j","v":0.24,"f":0.07},{"p":"j","v":0.26,"f":0.06},{"p":"j","v":0.28,"f":0.06},{"p":"j","v":0.30,"f":0.05},{"p":"j","v":0.32,"f":0.05},{"p":"j","v":0.34,"f":0.04},{"p":"j","v":0.36,"f":0.04},{"p":"j","v":0.38,"f":0.03},{"p":"j","v":0.40,"f":0.03},{"p":"j","v":0.42,"f":0.03},{"p":"j","v":0.44,"f":0.02},{"p":"j","v":0.46,"f":0.02},{"p":"j","v":0.48,"f":0.02},{"p":"j","v":0.50,"f":0.02},{"p":"j","v":0.52,"f":0.02},{"p":"j","v":0.54,"f":0.01},{"p":"j","v":0.56,"f":0.01},{"p":"j","v":0.58,"f":0.01},{"p":"j","v":0.60,"f":0.01},{"p":"j","v":0.62,"f":0.01}
]
},
"spacing": 154.5,
"bounds": "flush",
"vconcat": [
{"spacing": 78, "bounds": "flush", "hconcat": [
 {"title": {"text": "(a)\u00a0 50% clipped,"}, "width": 243, "height": 84, "layer": [
  {"data": {"name": "wave"}, "transform": [{"filter": "datum.p === 'a'"}], "mark": {"type": "rule", "color": "#0000FF", "strokeWidth": 2.8, "clip": true},
   "encoding": {"x": {"field": "t", "type": "quantitative", "scale": {"domain": [0, 20500], "nice": false, "zero": false}, "axis": {"values": [0, 5000, 10000, 15000, 20000], "labelExpr": "datum.value / 10000", "title": "Sample index", "labelFontSize": 14, "labelPadding": 10, "titlePadding": 1}},
    "y": {"field": "lo", "type": "quantitative", "scale": {"domain": [-1, 1], "nice": false}, "axis": {"values": [-1, 0, 1], "format": "~g", "title": "Norm. amplitude", "labelFontSize": 14, "labelPadding": 8, "titlePadding": 8}}, "y2": {"field": "hi"}}},
  {"data": {"values": [{}]}, "mark": {"type": "text", "text": "x 10⁴", "align": "right", "baseline": "alphabetic", "dy": 42, "fontSize": 12, "font": "Liberation Sans", "color": "black"},
   "encoding": {"x": {"datum": 20500, "type": "quantitative"}, "y": {"datum": -1, "type": "quantitative"}}}]},
 {"title": {"text": "(b)\u00a0 50% clipped,"}, "width": 243, "height": 84, "data": {"name": "hist"}, "transform": [{"filter": "datum.p === 'b'"}],
  "mark": {"type": "bar", "color": "#00008F", "width": 2.4, "orient": "vertical"},
  "encoding": {"x": {"field": "v", "type": "quantitative", "scale": {"domain": [-1, 1], "nice": false}, "axis": {"values": [-1, -0.5, 0, 0.5, 1], "format": "~g", "title": "Norm. amplitude", "labelFontSize": 9.5, "labelPadding": 5, "titlePadding": 1}},
   "y": {"field": "f", "type": "quantitative", "scale": {"domain": [0, 1], "nice": false}, "axis": {"values": [0, 0.5, 1], "format": "~g", "title": "Norm. Frequency", "labelFontSize": 9.5, "labelPadding": 8, "titlePadding": 9}}}}
]},
{"spacing": 78, "bounds": "flush", "hconcat": [
 {"title": {"text": "(c)\u00a0 50% clipped, Codec:G711"}, "width": 243, "height": 84, "layer": [
  {"data": {"name": "wave"}, "transform": [{"filter": "datum.p === 'c'"}], "mark": {"type": "rule", "color": "#0000FF", "strokeWidth": 2.8, "clip": true},
   "encoding": {"x": {"field": "t", "type": "quantitative", "scale": {"domain": [0, 20500], "nice": false, "zero": false}, "axis": {"values": [0, 5000, 10000, 15000, 20000], "labelExpr": "datum.value / 10000", "title": "Sample index", "labelFontSize": 14, "labelPadding": 10, "titlePadding": 1}},
    "y": {"field": "lo", "type": "quantitative", "scale": {"domain": [-1, 1], "nice": false}, "axis": {"values": [-1, 0, 1], "format": "~g", "title": "Norm. amplitude", "labelFontSize": 14, "labelPadding": 8, "titlePadding": 8}}, "y2": {"field": "hi"}}},
  {"data": {"values": [{}]}, "mark": {"type": "text", "text": "x 10⁴", "align": "right", "baseline": "alphabetic", "dy": 42, "fontSize": 12, "font": "Liberation Sans", "color": "black"},
   "encoding": {"x": {"datum": 20500, "type": "quantitative"}, "y": {"datum": -1, "type": "quantitative"}}}]},
 {"title": {"text": "(d)\u00a0 50% clipped, Codec:G711"}, "width": 243, "height": 84, "data": {"name": "hist"}, "transform": [{"filter": "datum.p === 'd'"}],
  "mark": {"type": "bar", "color": "#00008F", "width": 1.9, "orient": "vertical"},
  "encoding": {"x": {"field": "v", "type": "quantitative", "scale": {"domain": [-1, 1], "nice": false}, "axis": {"values": [-1, -0.5, 0, 0.5, 1], "format": "~g", "title": "Norm. amplitude", "labelFontSize": 9.5, "labelPadding": 5, "titlePadding": 1}},
   "y": {"field": "f", "type": "quantitative", "scale": {"domain": [0, 1], "nice": false}, "axis": {"values": [0, 0.5, 1], "format": "~g", "title": "Norm. Frequency", "labelFontSize": 9.5, "labelPadding": 8, "titlePadding": 9}}}}
]},
{"spacing": 78, "bounds": "flush", "hconcat": [
 {"title": {"text": "(e)\u00a0 50% clipped, Codec:GSM"}, "width": 243, "height": 84, "layer": [
  {"data": {"name": "wave"}, "transform": [{"filter": "datum.p === 'e'"}], "mark": {"type": "rule", "color": "#0000FF", "strokeWidth": 2.8, "clip": true},
   "encoding": {"x": {"field": "t", "type": "quantitative", "scale": {"domain": [0, 20500], "nice": false, "zero": false}, "axis": {"values": [0, 5000, 10000, 15000, 20000], "labelExpr": "datum.value / 10000", "title": "Sample index", "labelFontSize": 14, "labelPadding": 10, "titlePadding": 1}},
    "y": {"field": "lo", "type": "quantitative", "scale": {"domain": [-1, 1], "nice": false}, "axis": {"values": [-1, 0, 1], "format": "~g", "title": "Norm. amplitude", "labelFontSize": 14, "labelPadding": 8, "titlePadding": 8}}, "y2": {"field": "hi"}}},
  {"data": {"values": [{}]}, "mark": {"type": "text", "text": "x 10⁴", "align": "right", "baseline": "alphabetic", "dy": 42, "fontSize": 12, "font": "Liberation Sans", "color": "black"},
   "encoding": {"x": {"datum": 20500, "type": "quantitative"}, "y": {"datum": -1, "type": "quantitative"}}}]},
 {"title": {"text": "(f)\u00a0 50% clipped, Codec:GSM"}, "width": 243, "height": 84, "data": {"name": "hist"}, "transform": [{"filter": "datum.p === 'f'"}],
  "mark": {"type": "bar", "color": "#00008F", "width": 2.4, "orient": "vertical"},
  "encoding": {"x": {"field": "v", "type": "quantitative", "scale": {"domain": [-1, 1], "nice": false}, "axis": {"values": [-1, -0.5, 0, 0.5, 1], "format": "~g", "title": "Norm. amplitude", "labelFontSize": 9.5, "labelPadding": 5, "titlePadding": 1}},
   "y": {"field": "f", "type": "quantitative", "scale": {"domain": [0, 1], "nice": false}, "axis": {"values": [0, 0.5, 1], "format": "~g", "title": "Norm. Frequency", "labelFontSize": 9.5, "labelPadding": 8, "titlePadding": 9}}}}
]},
{"spacing": 78, "bounds": "flush", "hconcat": [
 {"title": {"text": "(g)\u00a0 50% clipped, Codec:MP3"}, "width": 243, "height": 84, "layer": [
  {"data": {"name": "wave"}, "transform": [{"filter": "datum.p === 'g'"}], "mark": {"type": "rule", "color": "#0000FF", "strokeWidth": 2.8, "clip": true},
   "encoding": {"x": {"field": "t", "type": "quantitative", "scale": {"domain": [0, 20500], "nice": false, "zero": false}, "axis": {"values": [0, 5000, 10000, 15000, 20000], "labelExpr": "datum.value / 10000", "title": "Sample index", "labelFontSize": 14, "labelPadding": 10, "titlePadding": 1}},
    "y": {"field": "lo", "type": "quantitative", "scale": {"domain": [-1, 1], "nice": false}, "axis": {"values": [-1, 0, 1], "format": "~g", "title": "Norm. amplitude", "labelFontSize": 14, "labelPadding": 8, "titlePadding": 8}}, "y2": {"field": "hi"}}},
  {"data": {"values": [{}]}, "mark": {"type": "text", "text": "x 10⁴", "align": "right", "baseline": "alphabetic", "dy": 42, "fontSize": 12, "font": "Liberation Sans", "color": "black"},
   "encoding": {"x": {"datum": 20500, "type": "quantitative"}, "y": {"datum": -1, "type": "quantitative"}}}]},
 {"title": {"text": "(h)\u00a0 50% clipped, Codec:MP3"}, "width": 243, "height": 84, "data": {"name": "hist"}, "transform": [{"filter": "datum.p === 'h'"}],
  "mark": {"type": "bar", "color": "#00008F", "width": 2.4, "orient": "vertical"},
  "encoding": {"x": {"field": "v", "type": "quantitative", "scale": {"domain": [-1, 1], "nice": false}, "axis": {"values": [-1, -0.5, 0, 0.5, 1], "format": "~g", "title": "Norm. amplitude", "labelFontSize": 9.5, "labelPadding": 5, "titlePadding": 1}},
   "y": {"field": "f", "type": "quantitative", "scale": {"domain": [0, 1], "nice": false}, "axis": {"values": [0, 0.5, 1], "format": "~g", "title": "Norm. Frequency", "labelFontSize": 9.5, "labelPadding": 8, "titlePadding": 9}}}}
]},
{"spacing": 78, "bounds": "flush", "hconcat": [
 {"title": {"text": "(i)\u00a0 50% clipped, Codec:AMR"}, "width": 243, "height": 84, "layer": [
  {"data": {"name": "wave"}, "transform": [{"filter": "datum.p === 'i'"}], "mark": {"type": "rule", "color": "#0000FF", "strokeWidth": 2.8, "clip": true},
   "encoding": {"x": {"field": "t", "type": "quantitative", "scale": {"domain": [0, 20500], "nice": false, "zero": false}, "axis": {"values": [0, 5000, 10000, 15000, 20000], "labelExpr": "datum.value / 10000", "title": "Sample index", "labelFontSize": 14, "labelPadding": 10, "titlePadding": 1}},
    "y": {"field": "lo", "type": "quantitative", "scale": {"domain": [-1, 1], "nice": false}, "axis": {"values": [-1, 0, 1], "format": "~g", "title": "Norm. amplitude", "labelFontSize": 14, "labelPadding": 8, "titlePadding": 8}}, "y2": {"field": "hi"}}},
  {"data": {"values": [{}]}, "mark": {"type": "text", "text": "x 10⁴", "align": "right", "baseline": "alphabetic", "dy": 42, "fontSize": 12, "font": "Liberation Sans", "color": "black"},
   "encoding": {"x": {"datum": 20500, "type": "quantitative"}, "y": {"datum": -1, "type": "quantitative"}}}]},
 {"title": {"text": "(j)\u00a0 50% clipped, Codec:AMR"}, "width": 243, "height": 84, "data": {"name": "hist"}, "transform": [{"filter": "datum.p === 'j'"}],
  "mark": {"type": "bar", "color": "#00008F", "width": 2.4, "orient": "vertical"},
  "encoding": {"x": {"field": "v", "type": "quantitative", "scale": {"domain": [-1, 1], "nice": false}, "axis": {"values": [-1, -0.5, 0, 0.5, 1], "format": "~g", "title": "Norm. amplitude", "labelFontSize": 9.5, "labelPadding": 5, "titlePadding": 1}},
   "y": {"field": "f", "type": "quantitative", "scale": {"domain": [0, 1], "nice": false}, "axis": {"values": [0, 0.5, 1], "format": "~g", "title": "Norm. Frequency", "labelFontSize": 9.5, "labelPadding": 8, "titlePadding": 9}}}}
]}
]
}
